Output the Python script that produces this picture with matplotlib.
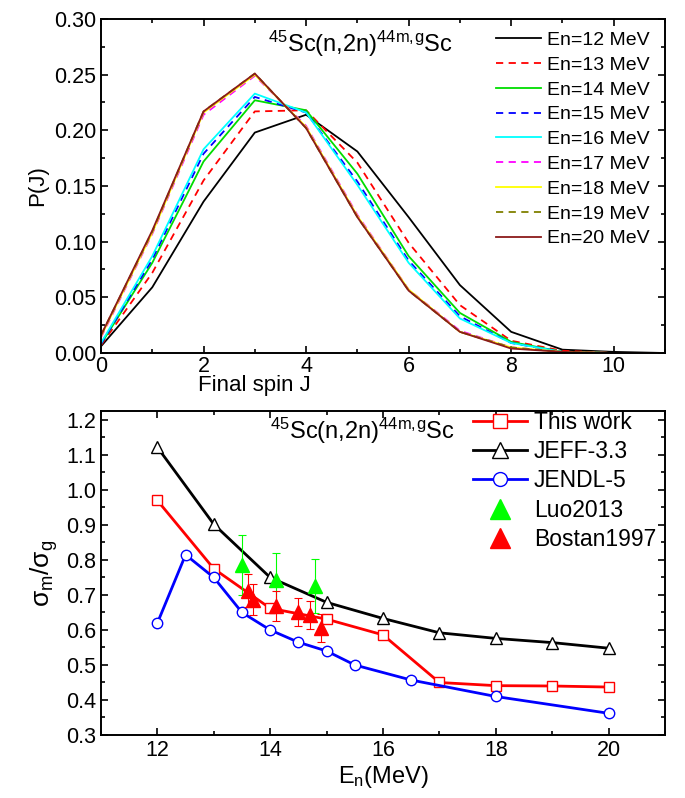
import matplotlib
matplotlib.use("Agg")
import matplotlib.pyplot as plt
from matplotlib.lines import Line2D
from matplotlib.ticker import MultipleLocator, FormatStrFormatter

plt.rcParams['font.family'] = ['Liberation Sans', 'DejaVu Sans']
plt.rcParams['mathtext.fontset'] = 'custom'
plt.rcParams['mathtext.rm'] = 'Liberation Sans'
plt.rcParams['mathtext.it'] = 'Liberation Sans:italic'

# ---- top panel: spin distribution P(J) ----
J = list(range(12))
P12 = [0.006, 0.059, 0.136, 0.198, 0.214, 0.181, 0.122, 0.061, 0.019, 0.003, 0.001, 0.0]
P13 = [0.007, 0.072, 0.155, 0.217, 0.218, 0.171, 0.099, 0.043, 0.011, 0.002, 0.0, 0.0]
P14 = [0.008, 0.081, 0.172, 0.227, 0.218, 0.161, 0.087, 0.036, 0.010, 0.001, 0.0, 0.0]
P15 = [0.008, 0.084, 0.179, 0.230, 0.216, 0.154, 0.083, 0.033, 0.009, 0.001, 0.0, 0.0]
P16 = [0.009, 0.087, 0.183, 0.233, 0.216, 0.151, 0.081, 0.031, 0.009, 0.001, 0.0, 0.0]
P17 = [0.014, 0.107, 0.214, 0.249, 0.204, 0.124, 0.057, 0.020, 0.005, 0.001, 0.0, 0.0]
P18 = [0.015, 0.108, 0.216, 0.250, 0.203, 0.123, 0.057, 0.019, 0.005, 0.001, 0.0, 0.0]
P19 = [0.016, 0.109, 0.217, 0.251, 0.202, 0.122, 0.056, 0.019, 0.005, 0.001, 0.0, 0.0]
P20 = [0.016, 0.110, 0.217, 0.251, 0.202, 0.122, 0.056, 0.019, 0.004, 0.001, 0.0, 0.0]
energies = [12, 13, 14, 15, 16, 17, 18, 19, 20]
curves = [P12, P13, P14, P15, P16, P17, P18, P19, P20]
colors = ['black', 'red', '#00dd00', 'blue', 'cyan', 'magenta', '#ffff00', '#808000', '#8b1a1a']
dashed = [False, True, False, True, False, True, False, True, False]

# ---- bottom panel: isomeric ratio ----
E_this = [12, 13, 14, 15, 16, 17, 18, 19, 20]
R_this = [0.97, 0.775, 0.662, 0.631, 0.586, 0.45, 0.441, 0.44, 0.437]
E_jeff = [12, 13, 14, 15, 16, 17, 18, 19, 20]
R_jeff = [1.122, 0.902, 0.75, 0.679, 0.633, 0.592, 0.576, 0.564, 0.548]
E_jendl = [12, 12.5, 13, 13.5, 14, 14.5, 15, 15.5, 16.5, 18, 20]
R_jendl = [0.62, 0.815, 0.75, 0.65, 0.60, 0.565, 0.54, 0.50, 0.457, 0.41, 0.362]
E_luo = [13.5, 14.1, 14.8]
R_luo = [0.785, 0.743, 0.725]
err_luo = [0.085, 0.078, 0.077]
E_bostan = [13.6, 13.7, 14.1, 14.5, 14.7, 14.9]
R_bostan = [0.712, 0.687, 0.669, 0.650, 0.643, 0.607]
err_bostan = [0.047, 0.043, 0.043, 0.040, 0.040, 0.040]

reaction = r'$^{45}$Sc(n,2n)$^{44\mathrm{m,\!g}}$Sc'

W, H = 685, 798
fig = plt.figure(figsize=(W / 100, H / 100), dpi=100)


def box(l, t, r, b):
    return [l / W, 1 - b / H, (r - l) / W, (b - t) / H]


def style(ax):
    ax.tick_params(which='both', direction='in', top=True, right=True, width=1.2, labelsize=15.5)
    ax.tick_params(which='major', length=5)
    ax.tick_params(which='minor', length=3)
    for s in ax.spines.values():
        s.set_linewidth(1.4)


ax1 = fig.add_axes(box(101, 19, 665, 353))
for E, P, c, d in zip(energies, curves, colors, dashed):
    ls = (0, (4, 3)) if d else '-'
    ax1.plot(J, P, color=c, lw=1.3, ls=ls, label='En=%d MeV' % E)
ax1.set_xlim(0, 11)
ax1.set_ylim(0, 0.30)
ax1.xaxis.set_major_locator(MultipleLocator(2))
ax1.xaxis.set_minor_locator(MultipleLocator(1))
ax1.yaxis.set_major_locator(MultipleLocator(0.05))
ax1.yaxis.set_minor_locator(MultipleLocator(0.025))
ax1.yaxis.set_major_formatter(FormatStrFormatter('%.2f'))
style(ax1)
ax1.tick_params(axis='x', pad=2)
ax1.set_ylabel('P(J)', fontsize=16, labelpad=4)
fig.text(254 / W, 1 - 386 / H, 'Final spin J', fontsize=16, ha='center', va='center')
ax1.text(0.296, 0.901, reaction, transform=ax1.transAxes,
         fontsize=17, ha='left', va='baseline')
ax1.legend(loc='upper left', bbox_to_anchor=(0.70, 0.963), frameon=False, fontsize=14,
           handlelength=2.3, handletextpad=0.35, labelspacing=0.37, borderpad=0, borderaxespad=0)

ax2 = fig.add_axes(box(101, 411, 665, 735))
ax2.plot(E_this, R_this, color='red', lw=2, marker='s', ms=7.5, mfc='white', mec='red',
         mew=1, zorder=3)
ax2.plot(E_jeff, R_jeff, color='black', lw=2, marker='^', ms=8.5, mfc='white', mec='black',
         mew=1, zorder=3)
ax2.plot(E_jendl, R_jendl, color='blue', lw=2, marker='o', ms=7.5, mfc='white', mec='blue',
         mew=1, zorder=3)
ax2.errorbar(E_luo, R_luo, yerr=err_luo, fmt='^', color='#00ff00', ms=10, ecolor='#00ff00',
             elinewidth=0.8, capsize=3, capthick=0.8, zorder=4)
ax2.errorbar(E_bostan, R_bostan, yerr=err_bostan, fmt='^', color='red', ms=10, ecolor='red',
             elinewidth=0.8, capsize=3, capthick=0.8, zorder=5)
ax2.set_xlim(11, 21)
ax2.set_ylim(0.3, 1.2257)
ax2.xaxis.set_major_locator(MultipleLocator(2))
ax2.xaxis.set_minor_locator(MultipleLocator(1))
ax2.yaxis.set_major_locator(MultipleLocator(0.1))
ax2.yaxis.set_minor_locator(MultipleLocator(0.05))
ax2.yaxis.set_major_formatter(FormatStrFormatter('%.1f'))
style(ax2)
ax2.set_xlabel(r'E$_\mathrm{n}$(MeV)', fontsize=17, labelpad=2)
ax2.set_ylabel(r'σ$_\mathrm{m}$/σ$_\mathrm{g}$', fontsize=19, labelpad=4)
ax2.text(0.30, 0.914, reaction, transform=ax2.transAxes,
         fontsize=17, ha='left', va='baseline')
handles = [
    Line2D([], [], color='red', lw=2, marker='s', ms=10, mfc='white', mec='red', mew=1),
    Line2D([], [], color='black', lw=2, marker='^', ms=12, mfc='white', mec='black', mew=1),
    Line2D([], [], color='blue', lw=2, marker='o', ms=10, mfc='white', mec='blue', mew=1),
    Line2D([], [], ls='none', marker='^', ms=14, color='#00ff00'),
    Line2D([], [], ls='none', marker='^', ms=14, color='red'),
]
labels = ['This work', 'JEFF-3.3', 'JENDL-5', 'Luo2013', 'Bostan1997']
ax2.legend(handles, labels, loc='upper left', bbox_to_anchor=(0.66, 1.0), frameon=False,
           fontsize=16.5, handlelength=2.35, handletextpad=0.3, labelspacing=0.27,
           borderpad=0, borderaxespad=0)

fig.savefig('out.png', dpi=100)
